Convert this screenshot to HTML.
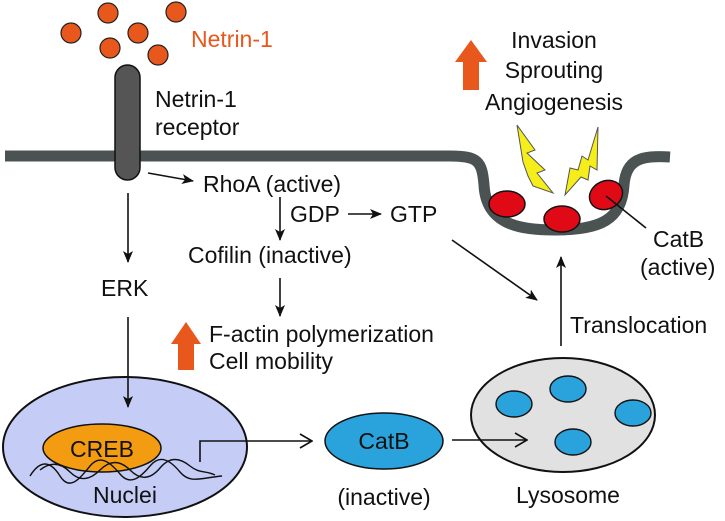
<!DOCTYPE html>
<html><head><meta charset="utf-8"><style>body{margin:0;background:#fff}svg{display:block}text{font-family:"Liberation Sans",sans-serif;font-size:23px;fill:#111}</style></head>
<body>
<svg width="725" height="521" viewBox="0 0 725 521" xmlns="http://www.w3.org/2000/svg">
<defs>
<marker id="a" markerWidth="12" markerHeight="12" refX="11" refY="6" orient="auto" markerUnits="userSpaceOnUse"><path d="M0,1 L12,6 L0,11 L3,6 Z" fill="#111"/></marker>
<marker id="o" markerWidth="14" markerHeight="16" refX="13" refY="8" orient="auto" markerUnits="userSpaceOnUse"><path d="M1,1 L13,8 L1,15" fill="none" stroke="#111" stroke-width="1.6"/></marker>
</defs>
<g fill="#e8571c" stroke="#222" stroke-width="1.2">
<circle cx="71" cy="33" r="10"/><circle cx="108" cy="13" r="10"/><circle cx="138" cy="33" r="10"/><circle cx="110" cy="48" r="10"/><circle cx="158" cy="55" r="10"/><circle cx="176" cy="12" r="10"/>
</g>
<text x="191" y="47" style="fill:#e8571c">Netrin-1</text>
<path d="M5,156 L450,156 C478,156 482,161 484,185 C486,225 520,230 555,230 C600,230 622,220 624,185 C626,160 640,155 670,157" fill="none" stroke="#4a5252" stroke-width="11"/>
<rect x="115" y="65" width="25" height="115" rx="12.5" fill="#555" stroke="#111" stroke-width="1.5"/>
<text x="155" y="107">Netrin-1</text>
<text x="155" y="135">receptor</text>
<g fill="#e00a17" stroke="#111" stroke-width="1.5">
<ellipse cx="507" cy="204" rx="18" ry="13"/><ellipse cx="562" cy="219" rx="18" ry="13"/><ellipse cx="606" cy="195" rx="17" ry="14" transform="rotate(-25 606 195)"/>
</g>
<g fill="#f5ee1a" stroke="#555" stroke-width="1">
<path d="M517,125 L535,150 L527,153 L545,170 L537,173 L553,193 L533,186 L528,176 L523,162 Z"/>
<path d="M598,127 L597,170 L590,166 L588,180 L581,177 L565,195 L570,168 L578,170 L582,156 L588,160 Z"/>
</g>
<line x1="606" y1="196" x2="646" y2="228" stroke="#111" stroke-width="1.6"/>
<text x="653" y="247">CatB</text>
<text x="640" y="275">(active)</text>
<path d="M463,90 L463,62 L455,62 L471,40 L487,62 L479,62 L479,90 Z" fill="#e8571c"/>
<path d="M178,370 L178,344 L171,344 L186,322 L201,344 L194,344 L194,370 Z" fill="#e8571c"/>
<text x="554" y="48" text-anchor="middle">Invasion</text>
<text x="554" y="78" text-anchor="middle">Sprouting</text>
<text x="554" y="110" text-anchor="middle">Angiogenesis</text>
<line x1="148" y1="173" x2="193" y2="181" stroke="#111" stroke-width="1.6" marker-end="url(#a)"/>
<text x="203" y="192">RhoA (active)</text>
<line x1="280" y1="197" x2="280" y2="240" stroke="#111" stroke-width="1.6" marker-end="url(#a)"/>
<text x="290" y="222">GDP</text>
<line x1="348" y1="214" x2="381" y2="214" stroke="#111" stroke-width="1.6" marker-end="url(#a)"/>
<text x="390" y="222">GTP</text>
<text x="188" y="263">Cofilin (inactive)</text>
<line x1="280" y1="278" x2="280" y2="316" stroke="#111" stroke-width="1.6" marker-end="url(#a)"/>
<text x="209" y="342">F-actin polymerization</text>
<text x="209" y="369">Cell mobility</text>
<line x1="128" y1="193" x2="128" y2="262" stroke="#111" stroke-width="1.6" marker-end="url(#a)"/>
<text x="101" y="296">ERK</text>
<line x1="452" y1="240" x2="537" y2="300" stroke="#111" stroke-width="1.6" marker-end="url(#a)"/>
<line x1="561" y1="346" x2="561" y2="257" stroke="#111" stroke-width="1.6" marker-end="url(#a)"/>
<text x="570" y="333">Translocation</text>
<ellipse cx="125" cy="447" rx="122" ry="70" fill="#c5cdf7" stroke="#111" stroke-width="2"/>
<ellipse cx="102" cy="448" rx="59" ry="24" fill="#f39c12" stroke="#111" stroke-width="1.5"/>
<text x="102" y="457" text-anchor="middle">CREB</text>
<path d="M30,476 C40,460 50,460 60,476 S80,478 90,466 S110,462 120,474 S140,478 150,466 S170,460 180,472 S200,478 222,476" fill="none" stroke="#111" stroke-width="1.4"/>
<path d="M40,470 C50,462 60,462 70,472 S90,480 100,470 S120,460 130,470 S150,480 160,468 S180,458 190,466 S205,470 215,475" fill="none" stroke="#111" stroke-width="1.4"/>
<text x="125" y="503" text-anchor="middle">Nuclei</text>
<line x1="128" y1="317" x2="128" y2="407" stroke="#111" stroke-width="1.6" marker-end="url(#a)"/>
<path d="M200,462 L200,441 L312,441" fill="none" stroke="#111" stroke-width="1.6" marker-end="url(#o)"/>
<ellipse cx="384" cy="441" rx="59" ry="28" fill="#2aa3dc" stroke="#111" stroke-width="1.5"/>
<text x="384" y="449" text-anchor="middle">CatB</text>
<text x="384" y="505" text-anchor="middle">(inactive)</text>
<ellipse cx="563" cy="415" rx="92" ry="57" fill="#e1e1e1" stroke="#111" stroke-width="2"/>
<g fill="#2aa3dc" stroke="#111" stroke-width="1.4">
<ellipse cx="514" cy="404" rx="18" ry="13"/><ellipse cx="568" cy="389" rx="18" ry="13"/><ellipse cx="633" cy="413" rx="18" ry="13"/><ellipse cx="573" cy="442" rx="18" ry="13"/>
</g>
<line x1="452" y1="440" x2="527" y2="440" stroke="#111" stroke-width="1.6" marker-end="url(#o)"/>
<text x="568" y="503" text-anchor="middle">Lysosome</text>
</svg>
</body></html>
